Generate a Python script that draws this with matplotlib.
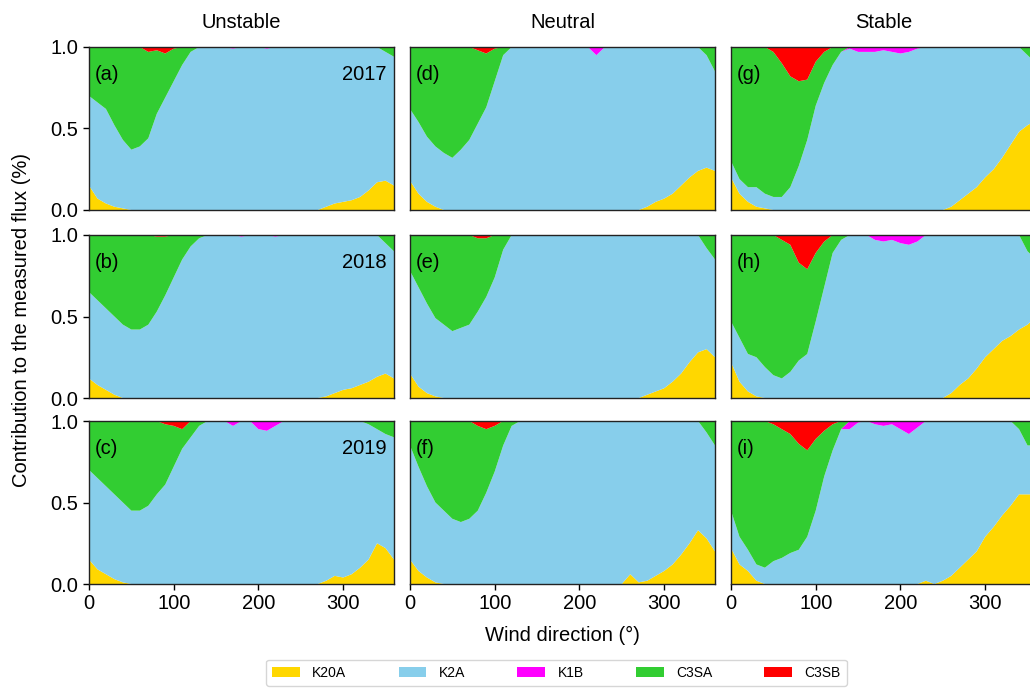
import numpy as np
import matplotlib.pyplot as plt
from matplotlib.patches import Patch

plt.rcParams['font.family'] = ['Liberation Sans', 'DejaVu Sans']

# wind direction bins (deg)
wd = list(range(0, 361, 10))

sources = ['K20A', 'K2A', 'K1B', 'C3SA', 'C3SB']
colors = ['gold', 'skyblue', 'magenta', 'limegreen', 'red']
stabilities = ['Unstable', 'Neutral', 'Stable']
years = ['2017', '2018', '2019']
letters = ['a', 'b', 'c', 'd', 'e', 'f', 'g', 'h', 'i']

# fractional contributions per 10 deg bin, K2A is the remainder up to 1
# --- unstable ---
k20a_a = [.15, .07, .04, .02, .01, 0, 0, 0, 0, 0, 0, 0, 0, 0, 0, 0, 0, 0, 0, 0,
          0, 0, 0, 0, 0, 0, 0, 0, .02, .04, .05, .06, .08, .12, .17, .18, .15]
k1b_a = [0, 0, 0, 0, 0, 0, 0, 0, 0, 0, 0, 0, 0, 0, 0, 0, 0, .01, 0, 0,
         0, .01, 0, 0, 0, 0, 0, 0, 0, 0, 0, 0, 0, 0, 0, 0, 0]
c3sa_a = [.30, .34, .38, .48, .57, .63, .61, .53, .39, .27, .20, .11, .03, 0, 0, 0, 0, 0, 0, 0,
          0, 0, 0, 0, 0, 0, 0, 0, 0, 0, 0, 0, 0, 0, 0, .03, .06]
c3sb_a = [0, 0, 0, 0, 0, 0, 0, .03, .02, .04, .01, 0, 0, 0, 0, 0, 0, 0, 0, 0,
          0, 0, 0, 0, 0, 0, 0, 0, 0, 0, 0, 0, 0, 0, 0, 0, 0]

k20a_b = [.12, .08, .05, .02, 0, 0, 0, 0, 0, 0, 0, 0, 0, 0, 0, 0, 0, 0, 0, 0,
          0, 0, 0, 0, 0, 0, 0, 0, .01, .03, .05, .06, .08, .10, .13, .15, .12]
k1b_b = [0, 0, 0, 0, 0, 0, 0, 0, 0, 0, 0, 0, 0, 0, 0, 0, 0, 0, .01, 0,
         0, 0, .01, 0, 0, 0, 0, 0, 0, 0, 0, 0, 0, 0, 0, 0, 0]
c3sa_b = [.35, .40, .45, .50, .55, .58, .58, .55, .46, .36, .26, .15, .07, .02, 0, 0, 0, 0, 0, 0,
          0, 0, 0, 0, 0, 0, 0, 0, 0, 0, 0, 0, 0, 0, 0, .05, .10]
c3sb_b = [0, 0, 0, 0, 0, 0, 0, 0, .01, .01, 0, 0, 0, 0, 0, 0, 0, 0, 0, 0,
          0, 0, 0, 0, 0, 0, 0, 0, 0, 0, 0, 0, 0, 0, 0, 0, 0]

k20a_c = [.15, .09, .06, .03, .01, 0, 0, 0, 0, 0, 0, 0, 0, 0, 0, 0, 0, 0, 0, 0,
          0, 0, 0, 0, 0, 0, 0, 0, .02, .05, .04, .06, .10, .15, .25, .22, .15]
k1b_c = [0, 0, 0, 0, 0, 0, 0, 0, 0, 0, 0, 0, 0, 0, 0, 0, 0, .03, 0, 0,
         .05, .06, .03, 0, 0, 0, 0, 0, 0, 0, 0, 0, 0, 0, 0, 0, 0]
c3sa_c = [.30, .35, .40, .45, .50, .55, .55, .52, .45, .37, .25, .12, .10, .03, 0, 0, 0, 0, 0, 0,
          0, 0, 0, 0, 0, 0, 0, 0, 0, 0, 0, 0, 0, .02, .05, .08, .10]
c3sb_c = [0, 0, 0, 0, 0, 0, 0, 0, 0, .02, .03, .05, 0, 0, 0, 0, 0, 0, 0, 0,
          0, 0, 0, 0, 0, 0, 0, 0, 0, 0, 0, 0, 0, 0, 0, 0, 0]

# --- neutral ---
k20a_d = [.18, .10, .05, .02, 0, 0, 0, 0, 0, 0, 0, 0, 0, 0, 0, 0, 0, 0, 0, 0,
          0, 0, 0, 0, 0, 0, 0, 0, .02, .05, .07, .10, .15, .20, .24, .26, .24]
k1b_d = [0, 0, 0, 0, 0, 0, 0, 0, 0, 0, 0, 0, 0, 0, 0, 0, 0, 0, 0, 0,
         0, 0, .05, 0, 0, 0, 0, 0, 0, 0, 0, 0, 0, 0, 0, 0, 0]
c3sa_d = [.38, .46, .55, .61, .65, .68, .63, .57, .45, .33, .20, .05, 0, 0, 0, 0, 0, 0, 0, 0,
          0, 0, 0, 0, 0, 0, 0, 0, 0, 0, 0, 0, 0, 0, 0, .05, .15]
c3sb_d = [0, 0, 0, 0, 0, 0, 0, 0, .02, .04, .01, 0, 0, 0, 0, 0, 0, 0, 0, 0,
          0, 0, 0, 0, 0, 0, 0, 0, 0, 0, 0, 0, 0, 0, 0, 0, 0]

k20a_e = [.15, .07, .03, .01, 0, 0, 0, 0, 0, 0, 0, 0, 0, 0, 0, 0, 0, 0, 0, 0,
          0, 0, 0, 0, 0, 0, 0, 0, .02, .04, .06, .10, .15, .22, .28, .30, .25]
k1b_e = [0] * 37
c3sa_e = [.22, .32, .42, .51, .55, .59, .57, .55, .45, .36, .26, .09, 0, 0, 0, 0, 0, 0, 0, 0,
          0, 0, 0, 0, 0, 0, 0, 0, 0, 0, 0, 0, 0, 0, 0, .08, .15]
c3sb_e = [0, 0, 0, 0, 0, 0, 0, 0, .02, .02, 0, 0, 0, 0, 0, 0, 0, 0, 0, 0,
          0, 0, 0, 0, 0, 0, 0, 0, 0, 0, 0, 0, 0, 0, 0, 0, 0]

k20a_f = [.15, .08, .04, .01, 0, 0, 0, 0, 0, 0, 0, 0, 0, 0, 0, 0, 0, 0, 0, 0,
          0, 0, 0, 0, 0, 0, .06, .01, .02, .05, .08, .12, .18, .25, .33, .28, .20]
k1b_f = [0] * 37
c3sa_f = [.15, .28, .40, .50, .55, .60, .62, .60, .52, .39, .28, .15, .03, 0, 0, 0, 0, 0, 0, 0,
          0, 0, 0, 0, 0, 0, 0, 0, 0, 0, 0, 0, 0, 0, 0, .07, .15]
c3sb_f = [0, 0, 0, 0, 0, 0, 0, 0, .03, .05, .03, 0, 0, 0, 0, 0, 0, 0, 0, 0,
          0, 0, 0, 0, 0, 0, 0, 0, 0, 0, 0, 0, 0, 0, 0, 0, 0]

# --- stable ---
k20a_g = [.20, .10, .05, .02, .01, 0, 0, 0, 0, 0, 0, 0, 0, 0, 0, 0, 0, 0, 0, 0,
          0, 0, 0, 0, 0, 0, .02, .06, .10, .14, .20, .25, .32, .40, .48, .52, .55]
k1b_g = [0, 0, 0, 0, 0, 0, 0, 0, 0, 0, 0, 0, 0, 0, .01, .03, .03, .03, .02, .03,
         .04, .03, .01, 0, 0, 0, 0, 0, 0, 0, 0, 0, 0, 0, 0, 0, 0]
c3sa_g = [.70, .81, .86, .86, .90, .89, .82, .68, .52, .37, .27, .19, .11, .03, 0, 0, 0, 0, 0, 0,
          0, 0, 0, 0, 0, 0, 0, 0, 0, 0, 0, 0, 0, 0, 0, .05, .10]
c3sb_g = [0, 0, 0, 0, 0, .03, .10, .18, .21, .20, .09, .03, 0, 0, 0, 0, 0, 0, 0, 0,
          0, 0, 0, 0, 0, 0, 0, 0, 0, 0, 0, 0, 0, 0, 0, 0, 0]

k20a_h = [.22, .10, .04, .01, 0, 0, 0, 0, 0, 0, 0, 0, 0, 0, 0, 0, 0, 0, 0, 0,
          0, 0, 0, 0, 0, 0, .03, .08, .12, .18, .25, .30, .35, .38, .42, .45, .50]
k1b_h = [0, 0, 0, 0, 0, 0, 0, 0, 0, 0, 0, 0, 0, 0, 0, 0, 0, .03, .04, .03,
         .05, .06, .04, 0, 0, 0, 0, 0, 0, 0, 0, 0, 0, 0, 0, 0, 0]
c3sa_h = [.53, .63, .73, .75, .81, .86, .85, .78, .60, .52, .42, .28, .11, .03, 0, 0, 0, 0, 0, 0,
          0, 0, 0, 0, 0, 0, 0, 0, 0, 0, 0, 0, 0, 0, 0, .10, .15]
c3sb_h = [0, 0, 0, 0, 0, 0, .03, .06, .17, .21, .11, .04, 0, 0, 0, 0, 0, 0, 0, 0,
          0, 0, 0, 0, 0, 0, 0, 0, 0, 0, 0, 0, 0, 0, 0, 0, 0]

k20a_i = [.22, .12, .08, .02, 0, 0, 0, 0, 0, 0, 0, 0, 0, 0, 0, 0, 0, 0, 0, 0,
          0, 0, 0, .02, 0, .02, .05, .10, .15, .20, .29, .35, .42, .48, .55, .55, .55]
k1b_i = [0, 0, 0, 0, 0, 0, 0, 0, 0, 0, 0, 0, 0, 0, .05, .01, 0, .02, .03, .02,
         .05, .08, .04, 0, 0, 0, 0, 0, 0, 0, 0, 0, 0, 0, 0, 0, 0]
c3sa_i = [.55, .71, .79, .88, .90, .84, .79, .73, .65, .53, .44, .28, .16, .05, 0, 0, 0, 0, 0, 0,
          0, 0, 0, 0, 0, 0, 0, 0, 0, 0, 0, 0, 0, 0, .05, .15, .15]
c3sb_i = [0, 0, 0, 0, 0, .02, .05, .08, .14, .18, .11, .06, .02, 0, 0, 0, 0, 0, 0, 0,
          0, 0, 0, 0, 0, 0, 0, 0, 0, 0, 0, 0, 0, 0, 0, 0, 0]

panels = {
    'a': (k20a_a, k1b_a, c3sa_a, c3sb_a), 'b': (k20a_b, k1b_b, c3sa_b, c3sb_b),
    'c': (k20a_c, k1b_c, c3sa_c, c3sb_c), 'd': (k20a_d, k1b_d, c3sa_d, c3sb_d),
    'e': (k20a_e, k1b_e, c3sa_e, c3sb_e), 'f': (k20a_f, k1b_f, c3sa_f, c3sb_f),
    'g': (k20a_g, k1b_g, c3sa_g, c3sb_g), 'h': (k20a_h, k1b_h, c3sa_h, c3sb_h),
    'i': (k20a_i, k1b_i, c3sa_i, c3sb_i),
}

W, H = 1030, 693
fig = plt.figure(figsize=(W / 100, H / 100), dpi=100)

col_left = [89, 410, 731]
col_w = 305
row_top = [47, 235, 421]
row_h = 163

for col in range(3):
    for row in range(3):
        x0 = col_left[col] / W
        y0 = 1 - (row_top[row] + row_h) / H
        ax = fig.add_axes([x0, y0, col_w / W, row_h / H])
        letter = letters[col * 3 + row]
        k20a, k1b, c3sa, c3sb = [np.array(v, dtype=float) for v in panels[letter]]
        k2a = 1 - k20a - k1b - c3sa - c3sb
        ax.stackplot(wd, k20a, k2a, k1b, c3sa, c3sb, colors=colors, linewidth=0)
        ax.set_xlim(0, 360)
        ax.set_ylim(0, 1)
        ax.set_xticks([0, 100, 200, 300])
        ax.set_yticks([0, 0.5, 1.0])
        ax.tick_params(labelsize=14.5, length=4, width=1)
        for sp in ax.spines.values():
            sp.set_linewidth(1)
            sp.set_color('#222222')
        if row < 2:
            ax.tick_params(axis='x', bottom=False, labelbottom=False)
        if col > 0:
            ax.tick_params(axis='y', left=False, labelleft=False)
        else:
            ax.set_yticklabels(['0.0', '0.5', '1.0'])
        if row == 0:
            ax.set_title(stabilities[col], fontsize=14.5, pad=14)
        ax.text(0.02, 0.83, '(%s)' % letter, transform=ax.transAxes,
                fontsize=14.5, va='center', ha='left')
        if col == 0:
            ax.text(0.975, 0.83, years[row], transform=ax.transAxes,
                    fontsize=14.5, va='center', ha='right')

fig.text(22 / W, 1 - 320 / H, 'Contribution to the measured flux (%)',
         rotation=90, va='center', ha='center', fontsize=14.5)
fig.text(562 / W, 1 - 635 / H, 'Wind direction (°)', va='center', ha='center',
         fontsize=14.5)

handles = [Patch(facecolor=c, edgecolor='none') for c in colors]
fig.legend(handles, sources, loc='lower center', bbox_to_anchor=(556.5 / W, 0.0),
           ncol=5, fontsize=10, frameon=True, handlelength=2.0, handleheight=0.8,
           columnspacing=3.75, handletextpad=0.9, borderpad=0.45)

fig.savefig('out.png', dpi=100)
